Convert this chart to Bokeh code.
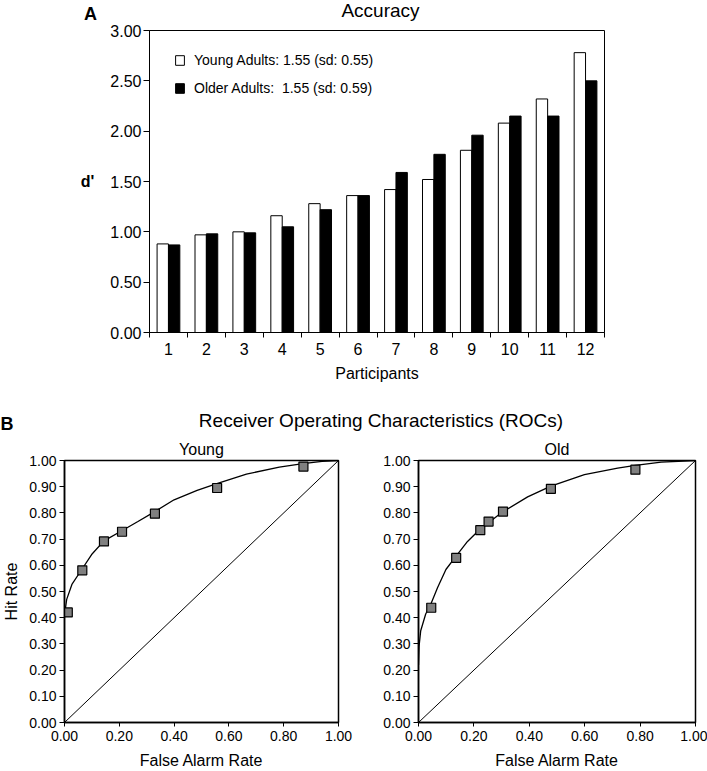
from bokeh.plotting import figure
from bokeh.models import (FixedTicker, NumeralTickFormatter, Label, Legend, LegendItem,
                          Range1d, ColumnDataSource)
from bokeh.layouts import column, row
from bokeh.embed import file_html
from bokeh.resources import INLINE
from bokeh.transform import dodge

FONT = "Liberation Sans"

# ---------------- data ----------------
participants = [1, 2, 3, 4, 5, 6, 7, 8, 9, 10, 11, 12]
young_dprime = [0.88, 0.97, 1.00, 1.16, 1.28, 1.36, 1.42, 1.52, 1.81, 2.08, 2.32, 2.78]
older_dprime = [0.87, 0.98, 0.99, 1.05, 1.22, 1.36, 1.59, 1.77, 1.96, 2.15, 2.15, 2.50]
dprime_ticks = [0.0, 0.5, 1.0, 1.5, 2.0, 2.5, 3.0]
legend_labels = ["Young Adults: 1.55 (sd: 0.55)", "Older Adults:  1.55 (sd: 0.59)"]

young_fa = [0.012, 0.065, 0.144, 0.210, 0.330, 0.557, 0.872]
young_hit = [0.420, 0.581, 0.691, 0.728, 0.797, 0.895, 0.977]
young_curve_fa = [0.0, 0.008, 0.027, 0.063, 0.099, 0.144, 0.211, 0.268, 0.328, 0.400,
                  0.484, 0.556, 0.664, 0.784, 0.870, 0.940, 1.0]
young_curve_hit = [0.41, 0.47, 0.527, 0.584, 0.641, 0.693, 0.733, 0.767, 0.804, 0.850,
                   0.886, 0.912, 0.948, 0.975, 0.988, 0.997, 1.0]

old_fa = [0.046, 0.136, 0.223, 0.253, 0.305, 0.478, 0.783]
old_hit = [0.438, 0.628, 0.734, 0.767, 0.805, 0.892, 0.965]
old_curve_fa = [0.0, 0.002, 0.008, 0.026, 0.044, 0.069, 0.099, 0.135, 0.177, 0.219,
                0.304, 0.394, 0.478, 0.599, 0.719, 0.783, 0.876, 1.0]
old_curve_hit = [0.22, 0.29, 0.350, 0.414, 0.450, 0.515, 0.584, 0.634, 0.691, 0.735,
                 0.804, 0.861, 0.902, 0.946, 0.971, 0.981, 0.994, 1.0]

chance_line = [0.0, 1.0]
roc_x_ticks = [0.0, 0.2, 0.4, 0.6, 0.8, 1.0]
roc_y_ticks = [0.0, 0.1, 0.2, 0.3, 0.4, 0.5, 0.6, 0.7, 0.8, 0.9, 1.0]


def slabel(p, text, x, y, size, bold=False, align="center"):
    # x, y in pixels from the bottom-left corner of the plot frame (y upwards)
    p.add_layout(Label(x=x, y=y, x_units="screen", y_units="screen", text=text,
                       text_font=FONT, text_font_size=size,
                       text_font_style="bold" if bold else "normal",
                       text_align=align, text_baseline="middle", text_color="black"))


def header(height):
    h = figure(width=707, height=height, x_range=Range1d(0, 1), y_range=Range1d(0, 1),
               output_backend="svg", toolbar_location=None,
               x_axis_location=None, y_axis_location=None,
               min_border_left=0, min_border_right=0, min_border_top=0, min_border_bottom=0)
    h.xgrid.visible = False
    h.ygrid.visible = False
    h.outline_line_color = None
    return h


# ---------------- header A ----------------
hA = header(22)
slabel(hA, "A", 90, 9, "18px", bold=True)
slabel(hA, "Accuracy", 380, 12, "19px")

# ---------------- panel A ----------------
p1 = figure(width=707, height=378, x_range=Range1d(0.5, 12.5), y_range=Range1d(0, 3),
            output_backend="svg", toolbar_location=None,
            min_border_left=149, min_border_right=103, min_border_top=8, min_border_bottom=68)
p1.xgrid.visible = False
p1.ygrid.visible = False
p1.outline_line_color = "black"
p1.outline_line_width = 1

src = ColumnDataSource(dict(p=participants, young=young_dprime, older=older_dprime))
r_y = p1.vbar(x=dodge("p", -0.15, range=p1.x_range), top="young", width=0.3, source=src,
              fill_color="white", line_color="black", line_width=1)
r_o = p1.vbar(x=dodge("p", 0.15, range=p1.x_range), top="older", width=0.3, source=src,
              fill_color="black", line_color="black", line_width=1)

xa = p1.xaxis[0]
xa.ticker = FixedTicker(ticks=participants,
                        minor_ticks=[v - 0.5 for v in participants] + [participants[-1] + 0.5])
xa.major_tick_out = 0
xa.major_tick_in = 0
xa.minor_tick_out = 5
xa.minor_tick_in = 0
xa.minor_tick_line_color = "black"
xa.major_label_standoff = 5
xa.axis_label = "Participants"
xa.axis_label_standoff = 7
for a in (xa, p1.yaxis[0]):
    a.axis_line_color = "black"
    a.major_tick_line_color = "black"
    a.major_label_text_font = FONT
    a.major_label_text_font_size = "16px"
    a.major_label_text_color = "black"
    a.axis_label_text_font = FONT
    a.axis_label_text_font_size = "16px"
    a.axis_label_text_font_style = "normal"
    a.axis_label_text_color = "black"
ya = p1.yaxis[0]
ya.ticker = FixedTicker(ticks=dprime_ticks)
ya.formatter = NumeralTickFormatter(format="0.00")
ya.major_tick_out = 6
ya.major_tick_in = 0
ya.minor_tick_line_color = None
ya.major_label_standoff = 2
ya.axis_label = "d'"
ya.axis_label_text_font_style = "bold"
ya.axis_label_standoff = 13
if "axis_label_orientation" in ya.properties():
    ya.axis_label_orientation = "horizontal"

legend = Legend(items=[LegendItem(label=legend_labels[0], renderers=[r_y]),
                       LegendItem(label=legend_labels[1], renderers=[r_o])],
                location=(25, 236), margin=0, padding=0, spacing=12,
                glyph_width=11, glyph_height=12, label_standoff=9, label_height=12,
                label_text_font=FONT, label_text_font_size="14px", label_text_color="black",
                border_line_color=None, background_fill_alpha=0)
p1.add_layout(legend)

# ---------------- header B ----------------
hB = header(36)
slabel(hB, "B", 0, 13, "18px", bold=True, align="left")
slabel(hB, "Receiver Operating Characteristics (ROCs)", 380.5, 16, "19px")


# ---------------- panel B ----------------
def roc_fig(width, left, right, title, fa, hit, cfa, chit, ylabel=None):
    p = figure(width=width, height=335, x_range=Range1d(0, 1), y_range=Range1d(0, 1),
               output_backend="svg", toolbar_location=None,
               min_border_left=left, min_border_right=right, min_border_top=24,
               min_border_bottom=47)
    p.title.text = title
    p.title.align = "center"
    p.title.text_font = FONT
    p.title.text_font_size = "16px"
    p.title.text_font_style = "normal"
    p.title.text_color = "black"
    p.title.standoff = 5
    p.xgrid.visible = False
    p.ygrid.visible = False
    p.outline_line_color = "black"
    p.outline_line_width = 1.5
    p.line(chance_line, chance_line, line_color="black", line_width=1)
    p.line(cfa, chit, line_color="black", line_width=1.3)
    p.scatter(fa, hit, marker="square", size=9, fill_color="#808080",
              line_color="black", line_width=1.2)
    for a, ticks, tl in ((p.xaxis[0], roc_x_ticks, 4), (p.yaxis[0], roc_y_ticks, 5)):
        a.ticker = FixedTicker(ticks=ticks)
        a.formatter = NumeralTickFormatter(format="0.00")
        a.major_tick_out = tl
        a.major_tick_in = 0
        a.minor_tick_line_color = None
        a.axis_line_color = "black"
        a.axis_line_width = 1.5
        a.major_tick_line_color = "black"
        a.major_label_text_font = FONT
        a.major_label_text_font_size = "14px"
        a.major_label_text_color = "black"
        a.axis_label_text_font = FONT
        a.axis_label_text_font_size = "16px"
        a.axis_label_text_font_style = "normal"
        a.axis_label_text_color = "black"
    p.xaxis[0].major_label_standoff = 4
    p.yaxis[0].major_label_standoff = 3
    p.xaxis[0].axis_label = "False Alarm Rate"
    p.xaxis[0].axis_label_standoff = 8
    if ylabel:
        p.yaxis[0].axis_label = ylabel
        p.yaxis[0].axis_label_standoff = 6
    return p


p_young = roc_fig(370, 61, 32, "Young", young_fa, young_hit, young_curve_fa, young_curve_hit,
                  ylabel="Hit Rate")
p_old = roc_fig(337, 48, 12, "Old", old_fa, old_hit, old_curve_fa, old_curve_hit)

layout = column(row(hA), p1, row(hB), row(p_young, p_old))
open("out.html", "w").write(file_html(layout, INLINE))
